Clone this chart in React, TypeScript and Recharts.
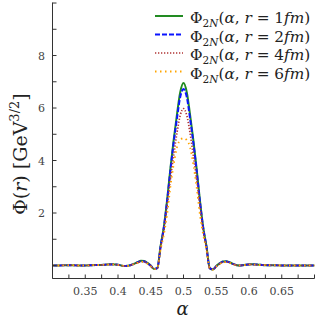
import React from 'react';
import { LineChart, Line, XAxis, YAxis, Legend } from 'recharts';

const alpha = [
  0.3, 0.31, 0.32, 0.33, 0.34, 0.35, 0.36, 0.37, 0.38,
  0.385, 0.39, 0.395, 0.4, 0.405, 0.41, 0.415, 0.42, 0.425, 0.43, 0.435, 0.44, 0.445,
  0.45, 0.455, 0.46, 0.465, 0.47, 0.475, 0.48, 0.485, 0.49, 0.495, 0.5,
  0.505, 0.51, 0.515, 0.52, 0.525, 0.53, 0.535, 0.54, 0.545, 0.55,
  0.555, 0.56, 0.565, 0.57, 0.575, 0.58, 0.585, 0.59, 0.595, 0.6, 0.605, 0.61, 0.615,
  0.62, 0.63, 0.64, 0.65, 0.66, 0.67, 0.68, 0.69, 0.7,
];

const phiR1 = [
  0.0, 0.0, 0.01, 0.01, 0.0, 0.0, 0.01, 0.02, 0.03,
  0.04, 0.05, 0.04, 0.03, 0.0, -0.02, -0.01, 0.02, 0.07, 0.13, 0.18, 0.17, 0.1,
  0.0, -0.13, -0.1, 0.75, 1.47, 2.5, 3.7, 4.79, 5.75, 6.6, 6.95,
  6.6, 5.75, 4.79, 3.7, 2.5, 1.47, 0.75, -0.1, -0.15, -0.02,
  0.08, 0.15, 0.16, 0.13, 0.07, 0.02, 0.0, 0.01, 0.03, 0.04, 0.05, 0.04, 0.03,
  0.02, 0.01, 0.01, 0.0, 0.0, 0.0, 0.0, 0.0, 0.0,
];

const phiR2 = [
  0.0, 0.0, 0.01, 0.01, 0.0, 0.0, 0.01, 0.02, 0.03,
  0.04, 0.04, 0.04, 0.03, 0.0, -0.02, -0.01, 0.02, 0.07, 0.12, 0.16, 0.15, 0.09,
  -0.01, -0.13, -0.1, 0.72, 1.44, 2.45, 3.62, 4.68, 5.6, 6.42, 6.72,
  6.42, 5.6, 4.68, 3.62, 2.45, 1.44, 0.72, -0.1, -0.15, -0.03,
  0.07, 0.14, 0.15, 0.12, 0.06, 0.02, 0.0, 0.01, 0.03, 0.04, 0.04, 0.04, 0.03,
  0.02, 0.01, 0.01, 0.0, 0.0, 0.0, 0.0, 0.0, 0.0,
];

const phiR4 = [
  0.0, 0.0, 0.01, 0.01, 0.0, 0.0, 0.01, 0.02, 0.03,
  0.04, 0.04, 0.04, 0.02, 0.0, -0.02, -0.01, 0.02, 0.06, 0.11, 0.15, 0.14, 0.08,
  -0.02, -0.13, -0.1, 0.68, 1.35, 2.3, 3.3, 4.2, 5.05, 5.72, 5.98,
  5.72, 5.05, 4.2, 3.3, 2.3, 1.35, 0.68, -0.1, -0.15, -0.03,
  0.06, 0.13, 0.14, 0.11, 0.06, 0.02, 0.0, 0.01, 0.02, 0.04, 0.04, 0.03, 0.02,
  0.02, 0.01, 0.01, 0.0, 0.0, 0.0, 0.0, 0.0, 0.0,
];

const phiR6 = [
  0.0, 0.0, 0.01, 0.01, 0.0, 0.0, 0.01, 0.02, 0.03,
  0.03, 0.04, 0.03, 0.02, 0.0, -0.02, -0.01, 0.02, 0.06, 0.1, 0.14, 0.13, 0.07,
  -0.03, -0.14, -0.11, 0.6, 1.18, 1.95, 3.0, 3.85, 4.5, 4.78, 4.85,
  4.78, 4.5, 3.85, 3.0, 1.95, 1.18, 0.6, -0.11, -0.16, -0.04,
  0.05, 0.12, 0.13, 0.1, 0.05, 0.01, 0.0, 0.01, 0.02, 0.03, 0.04, 0.03, 0.02,
  0.02, 0.01, 0.01, 0.0, 0.0, 0.0, 0.0, 0.0, 0.0,
];

const xTicks = [0.3, 0.325, 0.35, 0.375, 0.4, 0.425, 0.45, 0.475, 0.5, 0.525, 0.55, 0.575, 0.6, 0.625, 0.65, 0.675, 0.7];
const xTickLabels = ['0.35', '0.4', '0.45', '0.5', '0.55', '0.6', '0.65'];
const yTicks = [0, 1, 2, 3, 4, 5, 6, 7, 8, 9, 10];
const yTickLabels = ['2', '4', '6', '8'];

const seriesKeys = ['r1', 'r2', 'r4', 'r6'];
const seriesRadii = ['1', '2', '4', '6'];
const seriesColors = ['#228b22', '#0a14ff', '#b03535', '#ffa500'];
const seriesDash = ['', '5 2', '1.3 1.7', '1.5 3.5'];
const seriesWidth = [2, 2, 1.7, 1.8];

const data = alpha.map((a, i) => ({
  alpha: a,
  r1: phiR1[i],
  r2: phiR2[i],
  r4: phiR4[i],
  r6: phiR6[i],
}));

const FONT = "'DejaVu Serif', 'Liberation Serif', serif";
const AX = '#333';

const fmt = (v: number) => String(Number(v.toFixed(3)));

const BottomTick = (props: any) => {
  const { x, y, payload } = props;
  const lab = fmt(payload.value);
  const show = xTickLabels.includes(lab);
  return (
    <g>
      <line x1={x} x2={x} y1={y} y2={y - 4} stroke={AX} strokeWidth={1} />
      {show && (
        <text x={x} y={y + 16} textAnchor="middle" fontFamily={FONT} fontSize={11} fill="#444">
          {lab}
        </text>
      )}
    </g>
  );
};

const TopTick = (props: any) => {
  const { x, y } = props;
  return <line x1={x} x2={x} y1={y} y2={y + 4} stroke={AX} strokeWidth={1} />;
};

const LeftTick = (props: any) => {
  const { x, y, payload } = props;
  const lab = fmt(payload.value);
  const show = yTickLabels.includes(lab);
  return (
    <g>
      <line x1={x} x2={x + 4} y1={y} y2={y} stroke={AX} strokeWidth={1} />
      {show && (
        <text x={x - 7.5} y={y + 4} textAnchor="end" fontFamily={FONT} fontSize={11} fill="#444">
          {lab}
        </text>
      )}
    </g>
  );
};

const RightTick = (props: any) => {
  const { x, y } = props;
  return <line x1={x} x2={x - 4} y1={y} y2={y} stroke={AX} strokeWidth={1} />;
};

const YLabel = (props: any) => {
  const vb = props.viewBox || { x: 10.5, y: 2.5, width: 42, height: 276 };
  const cx = vb.x + 16;
  const cy = vb.y + vb.height / 2 + 13.5;
  return (
    <text
      x={cx}
      y={cy}
      transform={`rotate(-90, ${cx}, ${cy})`}
      textAnchor="middle"
      fontFamily={FONT}
      fontSize={19}
      fill="#222"
    >
      {'Φ('}
      <tspan fontStyle="italic">r</tspan>
      {') [GeV'}
      <tspan fontSize={13} dy={-8}>3/2</tspan>
      <tspan dy={8}>]</tspan>
    </text>
  );
};

const XLabel = (props: any) => {
  const vb = props.viewBox || { x: 52.5, y: 278.5, width: 262, height: 39.5 };
  return (
    <text
      x={vb.x + vb.width / 2 - 1}
      y={vb.y + 36}
      textAnchor="middle"
      fontFamily={FONT}
      fontStyle="italic"
      fontSize={18}
      fill="#222"
    >
      α
    </text>
  );
};

const legendRowY = [16, 34.5, 53, 71.5];

const LegendContent = () => (
  <svg width={318} height={90} style={{ display: 'block' }}>
    {seriesKeys.map((k, i) => {
      const y = legendRowY[i];
      return (
        <g key={k}>
          <line
            x1={155}
            x2={183}
            y1={y}
            y2={y}
            stroke={seriesColors[i]}
            strokeWidth={seriesWidth[i]}
            strokeDasharray={seriesDash[i] || undefined}
          />
          <text x={190} y={y + 7} fontFamily={FONT} fontSize={15.3} fill="#222">
            {'Φ'}
            <tspan fontSize={10.5} dy={4}>2</tspan>
            <tspan fontSize={10.5} fontStyle="italic">N</tspan>
            <tspan dy={-4}>(</tspan>
            <tspan fontStyle="italic">α</tspan>
            {', '}
            <tspan fontStyle="italic">r</tspan>
            {' = ' + seriesRadii[i]}
            <tspan fontStyle="italic">fm</tspan>
            {')'}
          </text>
        </g>
      );
    })}
  </svg>
);

export default function App() {
  return (
    <div style={{ position: 'absolute', left: 0, top: 0, width: 318, height: 318, background: '#fff' }}>
      <LineChart
        width={318}
        height={318}
        data={data}
        margin={{ top: 2.5, right: 3.5, bottom: 0, left: 10.5 }}
      >
        <XAxis
          dataKey="alpha"
          type="number"
          domain={[0.3, 0.7]}
          ticks={xTicks}
          allowDataOverflow
          height={39.5}
          tickSize={0}
          tickMargin={0}
          tickLine={false}
          axisLine={{ stroke: AX, strokeWidth: 1 }}
          tick={BottomTick}
          interval={0}
          label={{ content: XLabel }}
        />
        <XAxis
          xAxisId="top"
          dataKey="alpha"
          type="number"
          orientation="top"
          domain={[0.3, 0.7]}
          ticks={xTicks}
          allowDataOverflow
          height={0}
          tickSize={0}
          tickMargin={0}
          tickLine={false}
          axisLine={{ stroke: AX, strokeWidth: 1 }}
          tick={TopTick}
          interval={0}
        />
        <YAxis
          type="number"
          domain={[-0.495, 10.02]}
          ticks={yTicks}
          allowDataOverflow
          width={42}
          tickSize={0}
          tickMargin={0}
          tickLine={false}
          axisLine={{ stroke: AX, strokeWidth: 1 }}
          tick={LeftTick}
          interval={0}
          label={{ content: YLabel }}
        />
        <YAxis
          yAxisId="right"
          orientation="right"
          type="number"
          domain={[-0.495, 10.02]}
          ticks={yTicks}
          allowDataOverflow
          width={0}
          tickSize={0}
          tickMargin={0}
          tickLine={false}
          axisLine={{ stroke: AX, strokeWidth: 1 }}
          tick={RightTick}
          interval={0}
        />
        {seriesKeys.map((k, i) => (
          <Line
            key={k}
            type="monotone"
            dataKey={k}
            stroke={seriesColors[i]}
            strokeWidth={seriesWidth[i]}
            strokeDasharray={seriesDash[i] || undefined}
            dot={false}
            activeDot={false}
            isAnimationActive={false}
          />
        ))}
        <Legend
          layout="vertical"
          align="center"
          verticalAlign="middle"
          content={LegendContent}
          wrapperStyle={{ position: 'absolute', left: 0, top: 0, width: 318, height: 90 }}
        />
      </LineChart>
    </div>
  );
}
